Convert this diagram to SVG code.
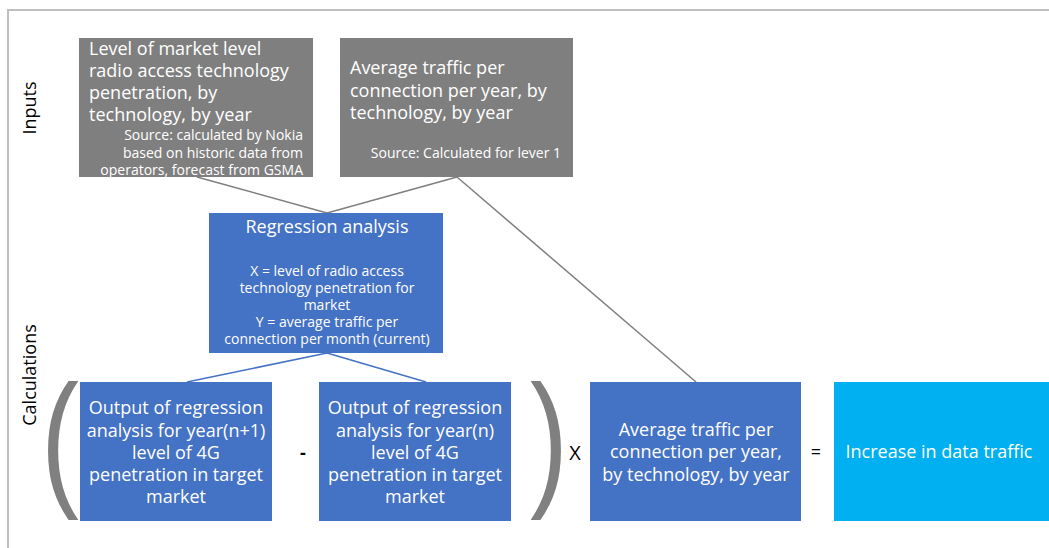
<svg xmlns="http://www.w3.org/2000/svg" width="1049" height="548" viewBox="0 0 1049 548">
<style>
.t{font-family:"Open Sans","Noto Sans","DejaVu Sans",sans-serif;fill:#fff}
.big{font-size:18px}
.sm{font-size:14px}
.blk{font-family:"Open Sans","Noto Sans","DejaVu Sans",sans-serif;fill:#000;font-size:18px}
.gray{fill:#7F7F7F}
.blue{fill:#4472C4}
.cyan{fill:#00B0F0}
.par{font-family:"Liberation Sans",Arial,sans-serif;fill:#808080;font-size:148px}
</style>
<rect x="8" y="10" width="1060" height="560" fill="none" stroke="#BFBFBF" stroke-width="2"/>
<text class="blk" transform="translate(36,108) rotate(-90)" text-anchor="middle">Inputs</text>
<text class="blk" transform="translate(36,375) rotate(-90)" text-anchor="middle">Calculations</text>
<g id="connectors" fill="none">
<line x1="197" y1="177" x2="327" y2="213" stroke="#7F7F7F" stroke-width="1.5"/>
<line x1="457" y1="177" x2="327" y2="213" stroke="#7F7F7F" stroke-width="1.5"/>
<line x1="457" y1="177" x2="696" y2="382" stroke="#7F7F7F" stroke-width="1.5"/>
<line x1="327" y1="353" x2="187" y2="382" stroke="#4472C4" stroke-width="1.5"/>
<line x1="327" y1="353" x2="426" y2="382" stroke="#4472C4" stroke-width="1.5"/>
</g>
<g id="input1">
<rect class="gray" x="79" y="38" width="234" height="139"/>
<text class="t big"><tspan x="89" y="55">Level of market level</tspan><tspan x="89" y="77">radio access technology</tspan><tspan x="89" y="99">penetration, by</tspan><tspan x="89" y="121">technology, by year</tspan></text>
<text class="t sm" text-anchor="end"><tspan x="303" y="140">Source: calculated by Nokia</tspan><tspan x="303" y="158">based on historic data from</tspan><tspan x="303" y="175">operators, forecast from GSMA</tspan></text>
</g>
<g id="input2">
<rect class="gray" x="340" y="38" width="233" height="139"/>
<text class="t big"><tspan x="350" y="74">Average traffic per</tspan><tspan x="350" y="97">connection per year, by</tspan><tspan x="350" y="119">technology, by year</tspan></text>
<text class="t sm" text-anchor="end" x="561" y="158">Source: Calculated for lever 1</text>
</g>
<g id="regression">
<rect class="blue" x="209" y="213" width="234" height="140"/>
<text class="t big" text-anchor="middle" x="327" y="233">Regression analysis</text>
<text class="t sm" text-anchor="middle"><tspan x="327" y="276">X = level of radio access</tspan><tspan x="327" y="293">technology penetration for</tspan><tspan x="327" y="310">market</tspan><tspan x="327" y="327">Y = average traffic per</tspan><tspan x="327" y="344">connection per month (current)</tspan></text>
</g>
<text class="par" transform="translate(41,489) scale(0.77,1)" x="0" y="0">(</text>
<text class="par" transform="translate(530,489) scale(0.77,1)" x="0" y="0">)</text>
<g id="output1">
<rect class="blue" x="80" y="382" width="192" height="139"/>
<text class="t big" text-anchor="middle"><tspan x="176" y="414">Output of regression</tspan><tspan x="176" y="437">analysis for year(n+1)</tspan><tspan x="176" y="459">level of 4G</tspan><tspan x="176" y="481">penetration in target</tspan><tspan x="176" y="503">market</tspan></text>
</g>
<text class="blk" text-anchor="middle" x="303" y="459" style="font-weight:bold">-</text>
<g id="output2">
<rect class="blue" x="319" y="382" width="192" height="139"/>
<text class="t big" text-anchor="middle"><tspan x="415" y="414">Output of regression</tspan><tspan x="415" y="437">analysis for year(n)</tspan><tspan x="415" y="459">level of 4G</tspan><tspan x="415" y="481">penetration in target</tspan><tspan x="415" y="503">market</tspan></text>
</g>
<text class="blk" text-anchor="middle" x="575" y="460" style="font-size:20px">X</text>
<g id="avgtraffic">
<rect class="blue" x="590" y="382" width="211" height="139"/>
<text class="t big" text-anchor="middle"><tspan x="696" y="436">Average traffic per</tspan><tspan x="696" y="458">connection per year,</tspan><tspan x="696" y="481">by technology, by year</tspan></text>
</g>
<text class="blk" text-anchor="middle" x="816" y="458">=</text>
<g id="increase">
<rect class="cyan" x="834" y="382" width="215" height="139"/>
<text class="t big" text-anchor="middle" x="939" y="458">Increase in data traffic</text>
</g>
</svg>
